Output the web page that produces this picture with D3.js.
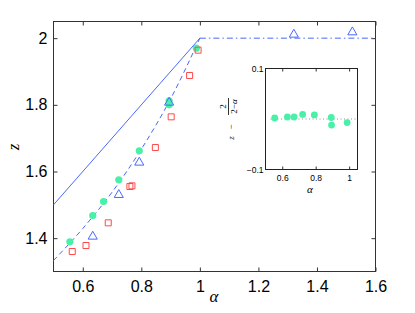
<!DOCTYPE html>
<html>
<head>
<meta charset="utf-8">
<script src="https://cdn.jsdelivr.net/npm/d3@7"></script>
<style>
  body { margin: 0; background: #fff; }
  text { font-family: "Liberation Sans", Arial, sans-serif; fill: #000; }
  .math { font-family: "Liberation Serif", "DejaVu Serif", serif; }
</style>
</head>
<body>
<div id="chart"></div>
<script>
// Data
const greenAlpha = [0.556, 0.634, 0.671, 0.723, 0.793, 0.895, 0.895, 0.988];
const greenZ     = [1.389, 1.468, 1.510, 1.575, 1.662, 1.812, 1.800, 1.970];
const redAlpha   = [0.564, 0.611, 0.687, 0.761, 0.768, 0.848, 0.902, 0.965, 0.994];
const redZ       = [1.360, 1.378, 1.446, 1.555, 1.557, 1.672, 1.764, 1.888, 1.964];
const blueAlpha  = [0.634, 0.723, 0.793, 0.895, 1.321, 1.521];
const blueZ      = [1.405, 1.530, 1.627, 1.807, 2.011, 2.018];

// reference lines
const solidAlpha  = [0.5, 1.0];
const solidZ      = [1.5, 2.0];
const dashedAlpha = [0.5, 0.6, 0.7, 0.8, 0.9, 1.0];
const dashedZ     = [1.333, 1.429, 1.538, 1.667, 1.818, 2.0];
const dashDotAlpha = [1.0, 1.6];
const dashDotZ     = [2.0, 2.0];

// inset
const insetAlpha = [0.555, 0.631, 0.671, 0.722, 0.792, 0.893, 0.895, 0.988];
const insetDiff  = [0.002, 0.004, 0.004, 0.009, 0.008, 0.003, -0.012, -0.007];
const insetZeroAlpha = [0.53, 1.04];
const insetZeroDiff  = [0, 0];

// ticks
const xTicks = [0.6, 0.8, 1, 1.2, 1.4, 1.6];
const yTicks = [1.4, 1.6, 1.8, 2];
const insetXTicks = [0.6, 0.8, 1];
const insetYTicks = [-0.1, 0.1];

const WIDTH = 415, HEIGHT = 313;
const GREEN = "#48f0a8", RED = "#ff4a4a", BLUE = "#4a68ff";

const svg = d3.select('#chart').append('svg')
  .attr('width', WIDTH).attr('height', HEIGHT);

const x = d3.scaleLinear().domain([0.5, 1.6]).range([53.5, 375.5]);
const y = d3.scaleLinear().domain([1.3, 2.05]).range([271.5, 21.5]);

const fmt = d => String(d);

// axes (ticks point inward)
function styleAxis(g) {
  g.select('.domain').remove();
  g.selectAll('.tick line').attr('stroke', '#333');
}
svg.append('g').attr('transform', 'translate(0,' + y.range()[0] + ')')
  .call(d3.axisBottom(x).tickValues(xTicks).tickFormat(fmt).tickSize(-4).tickPadding(9.5))
  .call(styleAxis)
  .selectAll('text').style('font-size', '16px').attr('font-family', null);
svg.append('g').attr('transform', 'translate(0,' + y.range()[1] + ')')
  .call(d3.axisTop(x).tickValues(xTicks).tickFormat('').tickSize(-4))
  .call(styleAxis);
svg.append('g').attr('transform', 'translate(' + x.range()[0] + ',0)')
  .call(d3.axisLeft(y).tickValues(yTicks).tickFormat(fmt).tickSize(-4).tickPadding(6))
  .call(styleAxis)
  .selectAll('text').style('font-size', '16px');
svg.append('g').attr('transform', 'translate(' + x.range()[1] + ',0)')
  .call(d3.axisRight(y).tickValues(yTicks).tickFormat('').tickSize(-4))
  .call(styleAxis);

svg.append('rect')
  .attr('x', x.range()[0]).attr('y', y.range()[1])
  .attr('width', x.range()[1] - x.range()[0])
  .attr('height', y.range()[0] - y.range()[1])
  .attr('fill', 'none').attr('stroke', '#333').attr('stroke-width', 1);

// lines
const line = d3.line().x(d => x(d[0])).y(d => y(d[1]));
svg.append('path').datum(d3.zip(solidAlpha, solidZ)).attr('d', line)
  .attr('fill', 'none').attr('stroke', BLUE).attr('stroke-width', 1);
svg.append('path').datum(d3.zip(dashedAlpha, dashedZ)).attr('d', line.curve(d3.curveMonotoneX))
  .attr('fill', 'none').attr('stroke', BLUE).attr('stroke-width', 1)
  .attr('stroke-dasharray', '5,3.5');
line.curve(d3.curveLinear);
svg.append('path').datum(d3.zip(dashDotAlpha, dashDotZ)).attr('d', line)
  .attr('fill', 'none').attr('stroke', BLUE).attr('stroke-width', 1)
  .attr('stroke-dasharray', '6,3,1.5,3');

// markers
svg.append('g').selectAll('circle').data(d3.zip(greenAlpha, greenZ)).enter()
  .append('circle')
  .attr('cx', d => x(d[0])).attr('cy', d => y(d[1])).attr('r', 3.6)
  .attr('fill', GREEN);

svg.append('g').selectAll('path').data(d3.zip(redAlpha, redZ)).enter()
  .append('path')
  .attr('d', d3.symbol().type(d3.symbolSquare).size(36))
  .attr('transform', d => 'translate(' + x(d[0]) + ',' + y(d[1]) + ')')
  .attr('fill', 'none').attr('stroke', RED).attr('stroke-width', 1);

svg.append('g').selectAll('path').data(d3.zip(blueAlpha, blueZ)).enter()
  .append('path')
  .attr('d', d3.symbol().type(d3.symbolTriangle).size(36))
  .attr('transform', d => 'translate(' + x(d[0]) + ',' + y(d[1]) + ')')
  .attr('fill', 'none').attr('stroke', BLUE).attr('stroke-width', 1);

// axis labels
svg.append('text').attr('class', 'math')
  .attr('x', 214).attr('y', 302).attr('text-anchor', 'middle')
  .style('font-size', '17px').style('font-style', 'italic').text('α');
svg.append('text').attr('class', 'math')
  .attr('transform', 'translate(19,147) rotate(-90)').attr('text-anchor', 'middle')
  .style('font-size', '17px').style('font-style', 'italic').text('z');

// inset
const ix = d3.scaleLinear().domain([0.5, 1.05]).range([265.5, 357.5]);
const iy = d3.scaleLinear().domain([-0.1, 0.1]).range([169.5, 68.5]);
const inset = svg.append('g');

inset.append('rect')
  .attr('x', ix.range()[0]).attr('y', iy.range()[1])
  .attr('width', ix.range()[1] - ix.range()[0])
  .attr('height', iy.range()[0] - iy.range()[1])
  .attr('fill', '#fff');

inset.append('g').attr('transform', 'translate(0,' + iy.range()[0] + ')')
  .call(d3.axisBottom(ix).tickValues(insetXTicks).tickFormat(fmt).tickSize(-3).tickPadding(5))
  .call(styleAxis)
  .selectAll('text').style('font-size', '8.5px');
inset.append('g').attr('transform', 'translate(0,' + iy.range()[1] + ')')
  .call(d3.axisTop(ix).tickValues(insetXTicks).tickFormat('').tickSize(-3))
  .call(styleAxis);
inset.append('g').attr('transform', 'translate(' + ix.range()[0] + ',0)')
  .call(d3.axisLeft(iy).tickValues(insetYTicks).tickFormat(d => d < 0 ? '−' + Math.abs(d) : String(d)).tickSize(0).tickPadding(2))
  .call(styleAxis)
  .selectAll('text').style('font-size', '8.5px');

inset.append('rect')
  .attr('x', ix.range()[0]).attr('y', iy.range()[1])
  .attr('width', ix.range()[1] - ix.range()[0])
  .attr('height', iy.range()[0] - iy.range()[1])
  .attr('fill', 'none').attr('stroke', '#222').attr('stroke-width', 1);

const iline = d3.line().x(d => ix(d[0])).y(d => iy(d[1]));
inset.append('path').datum(d3.zip(insetZeroAlpha, insetZeroDiff)).attr('d', iline)
  .attr('fill', 'none').attr('stroke', '#777').attr('stroke-width', 0.8)
  .attr('stroke-dasharray', '1,2.5');

inset.append('g').selectAll('circle').data(d3.zip(insetAlpha, insetDiff)).enter()
  .append('circle')
  .attr('cx', d => ix(d[0])).attr('cy', d => iy(d[1])).attr('r', 3.4)
  .attr('fill', GREEN);

inset.append('text').attr('class', 'math')
  .attr('x', 310).attr('y', 192.5).attr('text-anchor', 'middle')
  .style('font-size', '11px').style('font-style', 'italic').text('α');

// inset y label: z − 2/(2−α), rotated
const yl = inset.append('g').attr('transform', 'translate(229,120) rotate(-90)')
  .style('font-size', '9px');
yl.append('text').attr('class', 'math').attr('x', -18).attr('y', 5)
  .attr('text-anchor', 'middle').style('font-style', 'italic').text('z');
yl.append('text').attr('class', 'math').attr('x', -7).attr('y', 5)
  .attr('text-anchor', 'middle').text('−');
yl.append('line').attr('x1', 5).attr('x2', 22).attr('y1', -0.5).attr('y2', -0.5)
  .attr('stroke', '#000').attr('stroke-width', 0.8);
yl.append('text').attr('class', 'math').attr('x', 13.5).attr('y', -3.5)
  .attr('text-anchor', 'middle').text('2');
const den = yl.append('text').attr('class', 'math').attr('x', 13.5).attr('y', 8)
  .attr('text-anchor', 'middle');
den.append('tspan').text('2−');
den.append('tspan').style('font-style', 'italic').text('α');
</script>
</body>
</html>
